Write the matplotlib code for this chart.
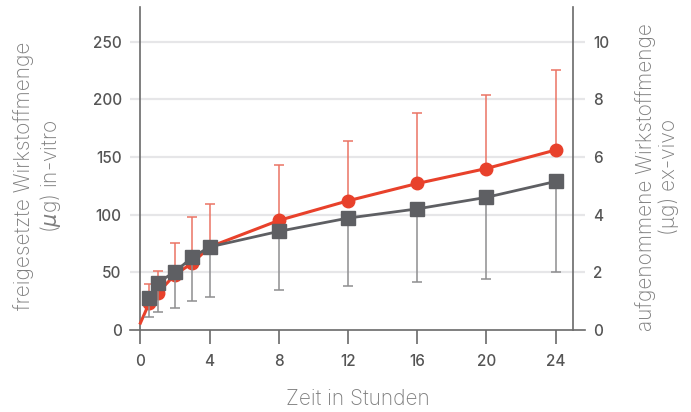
import matplotlib
matplotlib.use("Agg")
import matplotlib.pyplot as plt

plt.rcParams['font.family'] = ['Inter', 'DejaVu Sans']

# Time points (hours)
hours = [0.5, 1, 2, 3, 4, 8, 12, 16, 20, 24]
hour_ticks = [0, 4, 8, 12, 16, 20, 24]

# In-vitro release (µg), left axis; line starts at t=0
invitro_start = 6
invitro = [23, 32, 48, 58, 72, 95, 112, 127, 140, 156]
invitro_err_up = [17, 19, 27, 40, 37, 48, 52, 61, 64, 69]

# Ex-vivo uptake (µg), right axis
exvivo = [1.10, 1.64, 2.02, 2.52, 2.88, 3.42, 3.88, 4.20, 4.60, 5.15]
exvivo_err_down = [0.64, 1.00, 1.26, 1.52, 1.72, 2.02, 2.36, 2.52, 2.84, 3.15]

left_ticks = [0, 50, 100, 150, 200, 250]
right_ticks = [0, 2, 4, 6, 8, 10]

RED = '#E8412B'
RED_ERR = '#EB7464'
GRAY = '#5E5F63'
GRAY_ERR = '#8E8E90'
AXIS = '#6A6A6A'
TICK_TXT = '#555555'
LABEL_TXT = '#7E7E7E'

fig = plt.figure(figsize=(6.91, 4.12), dpi=100)
ax = fig.add_axes([130 / 691, 82 / 412, 455 / 691, 323 / 412])
ax.set_xlim(-0.6, 25.7)
ax.set_ylim(0, 280)

# grid
for v in left_ticks[1:]:
    ax.axhline(v, color='#E6E6E8', lw=1.6, zorder=0)

for s in ['top', 'right']:
    ax.spines[s].set_visible(False)
ax.spines['left'].set_position(('data', 0))
ax.spines['left'].set_color(AXIS)
ax.spines['left'].set_linewidth(1.2)
ax.spines['bottom'].set_color(AXIS)
ax.spines['bottom'].set_linewidth(1.2)

ax.set_xticks(hour_ticks)
ax.set_xticklabels([str(h) for h in hour_ticks])
ax.tick_params(axis='x', direction='out', length=10, width=1.2, color=AXIS,
               labelsize=11, labelcolor=TICK_TXT, pad=7)
ax.set_yticks(left_ticks)
ax.set_yticklabels([str(v) for v in left_ticks])
ax.tick_params(axis='y', length=0, labelsize=11, labelcolor=TICK_TXT, pad=13.5)
for lab in ax.get_xticklabels() + ax.get_yticklabels():
    lab.set_fontweight('medium')

# in-vitro series with upward error bars
ax.errorbar(hours, invitro, yerr=[[0] * len(hours), invitro_err_up], fmt='none',
            ecolor=RED_ERR, elinewidth=1.1, capsize=3.6, capthick=1.1, zorder=2)
ax.plot([0] + hours, [invitro_start] + invitro, color=RED, lw=2.2, zorder=3)
ax.plot(hours, invitro, 'o', color=RED, ms=9, zorder=3)

# ex-vivo series on the right axis
ax2 = ax.twinx()
ax2.set_ylim(0, 11.2)
ax2.patch.set_visible(False)
for s in ['top', 'left', 'bottom']:
    ax2.spines[s].set_visible(False)
ax2.spines['right'].set_position(('data', 25))
ax2.spines['right'].set_color(AXIS)
ax2.spines['right'].set_linewidth(1.2)
ax2.set_yticks(right_ticks)
ax2.set_yticklabels([str(v) for v in right_ticks])
ax2.tick_params(axis='y', length=0, labelsize=11, labelcolor=TICK_TXT, pad=14.4)
for lab in ax2.get_yticklabels():
    lab.set_fontweight('medium')
ax2.errorbar(hours, exvivo, yerr=[exvivo_err_down, [0] * len(hours)], fmt='none',
             ecolor=GRAY_ERR, elinewidth=1.1, capsize=3.6, capthick=1.1, zorder=2)
ax2.plot(hours, exvivo, color=GRAY, lw=2.0, marker='s', ms=9.5, zorder=4)

# axis titles
fig.text(358 / 691, 1 - 399 / 412, 'Zeit in Stunden', ha='center', va='center',
         fontsize=15, color=LABEL_TXT, fontweight='light')
fig.text(38 / 691, 1 - 176 / 412, 'freigesetzte Wirkstoffmenge\n($\\mu$g) in-vitro',
         ha='center', va='center', rotation=90, fontsize=15, color=LABEL_TXT,
         fontweight='light', linespacing=1.2)
fig.text(657 / 691, 1 - 177 / 412, 'aufgenommene Wirkstoffmenge\n(µg) ex-vivo',
         ha='center', va='center', rotation=90, fontsize=15, color=LABEL_TXT,
         fontweight='light', linespacing=1.2)

fig.savefig('out.png', dpi=100)
